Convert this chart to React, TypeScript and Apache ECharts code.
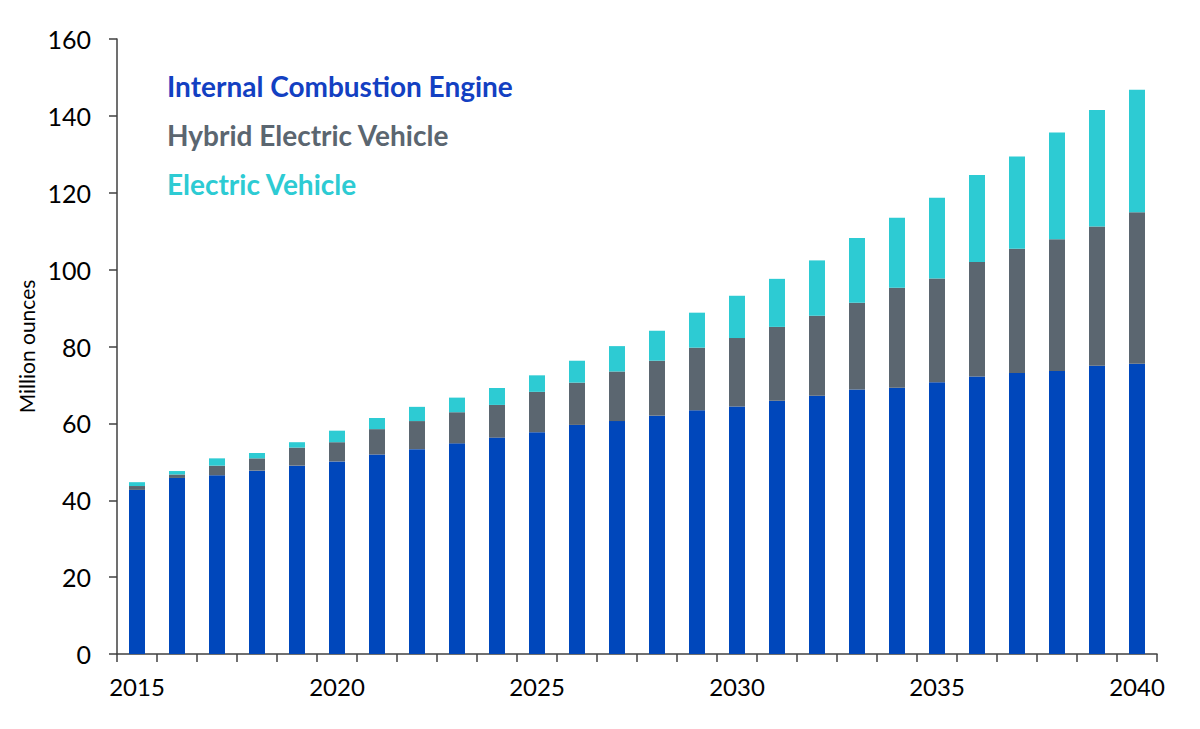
import React, { useEffect, useRef } from "react";
import * as echarts from "echarts";

const years = [
  "2015", "2016", "2017", "2018", "2019", "2020", "2021", "2022", "2023", "2024",
  "2025", "2026", "2027", "2028", "2029", "2030", "2031", "2032", "2033", "2034",
  "2035", "2036", "2037", "2038", "2039", "2040",
];

// Internal Combustion Engine (million ounces)
const iceValues = [
  42.7, 45.8, 46.5, 47.7, 49.0, 50.1, 51.9, 53.3, 54.8, 56.3,
  57.7, 59.6, 60.6, 62.0, 63.4, 64.4, 65.9, 67.2, 68.8, 69.3,
  70.7, 72.2, 73.1, 73.6, 75.0, 75.5,
];
// Hybrid Electric Vehicle
const hevValues = [
  1.0, 0.9, 2.5, 3.2, 4.7, 5.0, 6.6, 7.3, 8.1, 8.5,
  10.5, 11.0, 12.9, 14.3, 16.3, 17.8, 19.2, 20.8, 22.6, 26.0,
  27.0, 29.8, 32.3, 34.3, 36.2, 39.4,
];
// Electric Vehicle
const evValues = [
  1.0, 0.9, 1.9, 1.4, 1.4, 3.0, 2.9, 3.7, 3.8, 4.4,
  4.3, 5.7, 6.6, 7.8, 9.1, 11.0, 12.5, 14.4, 16.8, 18.2,
  21.0, 22.6, 24.0, 27.8, 30.3, 31.9,
];

const yTicks = { min: 0, max: 160, interval: 20 };

const seriesNames = [
  "Internal Combustion Engine",
  "Hybrid Electric Vehicle",
  "Electric Vehicle",
];
const barColors = ["#0047BB", "#5B6670", "#2DCBD3"];
const legendColors = ["#1340C2", "#5B6670", "#2DCBD3"];

export default function App() {
  const ref = useRef<HTMLDivElement>(null);

  useEffect(() => {
    if (!ref.current) return;
    const chart = echarts.init(ref.current, undefined, { renderer: "svg" });
    const font = "Lato, 'Open Sans', sans-serif";
    const dataSets = [iceValues, hevValues, evValues];
    chart.setOption({
      animation: false,
      backgroundColor: "#ffffff",
      textStyle: { fontFamily: font },
      grid: { left: 117, right: 43, top: 39, bottom: 75, containLabel: false },
      legend: {
        orient: "vertical",
        left: 157,
        top: 66,
        itemGap: 19,
        itemWidth: 0,
        itemHeight: 14,
        selectedMode: false,
        data: seriesNames.map((n, i) => ({
          name: n,
          icon: "none",
          textStyle: {
            color: legendColors[i],
            fontSize: 28,
            fontWeight: "bold",
            fontFamily: font,
            lineHeight: 30,
          },
        })),
      },
      xAxis: {
        type: "category",
        data: years,
        boundaryGap: true,
        axisLine: { lineStyle: { color: "#404040", width: 1.5 } },
        axisTick: { show: true, interval: 0, length: 8, lineStyle: { color: "#404040", width: 1.5 } },
        axisLabel: { interval: 4, color: "#000", fontSize: 24, margin: 20, fontFamily: font },
      },
      yAxis: {
        type: "value",
        min: yTicks.min,
        max: yTicks.max,
        interval: yTicks.interval,
        name: "Million ounces",
        nameLocation: "middle",
        nameGap: 62,
        nameTextStyle: { color: "#000", fontSize: 21, fontFamily: font },
        splitLine: { show: false },
        axisLine: { show: true, lineStyle: { color: "#404040", width: 1.5 } },
        axisTick: { show: true, length: 8, lineStyle: { color: "#404040", width: 1.5 } },
        axisLabel: { color: "#000", fontSize: 25, margin: 26, fontFamily: font },
      },
      series: seriesNames.map((n, i) => ({
        name: n,
        type: "bar",
        stack: "total",
        barWidth: "40%",
        itemStyle: { color: barColors[i] },
        data: dataSets[i],
      })),
    });
    return () => chart.dispose();
  }, []);

  return <div ref={ref} style={{ width: 1200, height: 729, margin: -8 }} />;
}
